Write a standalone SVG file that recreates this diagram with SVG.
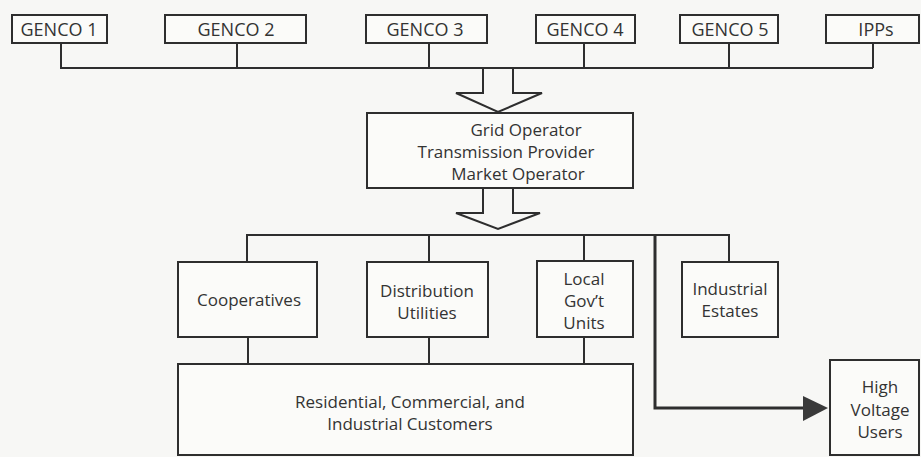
<svg xmlns="http://www.w3.org/2000/svg" width="921" height="457" viewBox="0 0 921 457">
<defs>
<style>
.box{fill:#fbfbf9;stroke:#2e2e2e;stroke-width:2}
.ln{fill:none;stroke:#2e2e2e;stroke-width:2}
.t{font-family:"Open Sans","Noto Sans",sans-serif;font-size:17px;fill:#333;text-anchor:middle}
.g{font-size:18px}
</style>
</defs>
<rect x="0" y="0" width="921" height="457" fill="#f7f7f5"/>
<g id="connectors">
<polyline class="ln" points="61,43 61,68 873,68"/>
<line class="ln" x1="237" y1="43" x2="237" y2="68"/>
<line class="ln" x1="429" y1="43" x2="429" y2="68"/>
<line class="ln" x1="584" y1="43" x2="584" y2="68"/>
<line class="ln" x1="729" y1="43" x2="729" y2="68"/>
<line class="ln" x1="873" y1="43" x2="873" y2="68"/>
<polyline class="ln" points="483,68 483,93 456,93 498,112 542,93 513,93 513,68"/>
<polyline class="ln" points="483,188 483,213 456,213 498,229 540,213 513,213 513,188"/>
<polyline class="ln" points="247,262 247,235 729,235 729,262"/>
<line class="ln" x1="429" y1="235" x2="429" y2="262"/>
<line class="ln" x1="584" y1="235" x2="584" y2="261"/>
<line class="ln" x1="248" y1="337" x2="248" y2="364"/>
<line class="ln" x1="429" y1="337" x2="429" y2="364"/>
<line class="ln" x1="584" y1="337" x2="584" y2="364"/>
<polyline class="ln" points="655,235 655,408 805,408" style="stroke-width:3"/>
<polygon points="803,396 828,408 803,421" fill="#3a3a3a"/>
</g>
<g id="genco1"><rect class="box" x="12" y="15" width="95" height="28"/><text class="t g" x="59" y="36">GENCO 1</text></g>
<g id="genco2"><rect class="box" x="165" y="15" width="141" height="28"/><text class="t g" x="236" y="36">GENCO 2</text></g>
<g id="genco3"><rect class="box" x="366" y="15" width="121" height="28"/><text class="t g" x="425" y="36">GENCO 3</text></g>
<g id="genco4"><rect class="box" x="536" y="15" width="99" height="28"/><text class="t g" x="585" y="36">GENCO 4</text></g>
<g id="genco5"><rect class="box" x="680" y="15" width="98" height="28"/><text class="t g" x="730" y="36">GENCO 5</text></g>
<g id="ipps"><rect class="box" x="826" y="15" width="93" height="28"/><text class="t g" x="876" y="36">IPPs</text></g>
<g id="grid-operator"><rect class="box" x="367" y="113" width="266" height="75"/>
<text class="t" x="526" y="136">Grid Operator</text>
<text class="t" x="506" y="158">Transmission Provider</text>
<text class="t" x="518" y="180">Market Operator</text></g>
<g id="cooperatives"><rect class="box" x="178" y="262" width="139" height="75"/><text class="t" x="249" y="306">Cooperatives</text></g>
<g id="distribution"><rect class="box" x="367" y="262" width="121" height="75"/><text class="t" x="427" y="297">Distribution</text><text class="t" x="427" y="319">Utilities</text></g>
<g id="lgu"><rect class="box" x="537" y="261" width="96" height="76"/><text class="t" x="584" y="285">Local</text><text class="t" x="584" y="307">Gov’t</text><text class="t" x="584" y="329">Units</text></g>
<g id="industrial-estates"><rect class="box" x="682" y="262" width="96" height="75"/><text class="t" x="730" y="295">Industrial</text><text class="t" x="730" y="317">Estates</text></g>
<g id="customers"><rect class="box" x="178" y="364" width="455" height="91"/><text class="t" x="410" y="408">Residential, Commercial, and</text><text class="t" x="410" y="430">Industrial Customers</text></g>
<g id="hv-users"><rect class="box" x="830" y="360" width="89" height="95"/><text class="t" x="880" y="393">High</text><text class="t" x="880" y="416">Voltage</text><text class="t" x="880" y="438">Users</text></g>
</svg>
